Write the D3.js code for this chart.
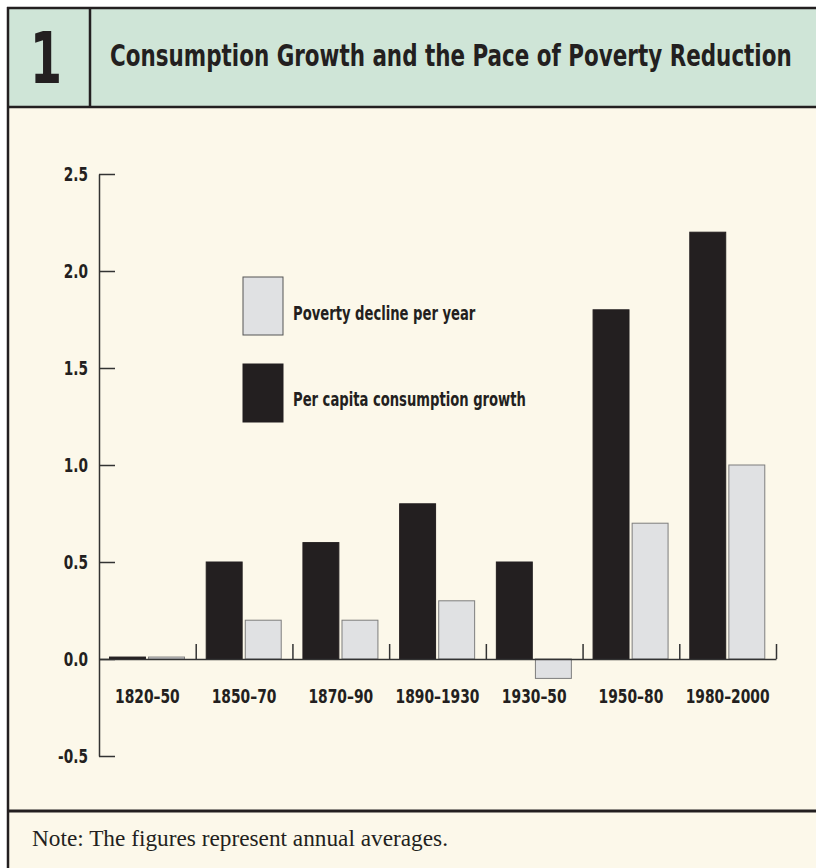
<!DOCTYPE html>
<html>
<head>
<meta charset="utf-8">
<script src="https://cdn.jsdelivr.net/npm/d3@7"></script>
<style>
  body { margin: 0; background: #fff; }
  .narrow { font-family: "Liberation Sans Narrow", "DejaVu Sans Condensed", "Arial Narrow", sans-serif; font-weight: bold; fill: #231f20; }
</style>
</head>
<body>
<div id="chart"></div>
<script>
const periods = ["1820–50", "1850–70", "1870–90", "1890–1930", "1930–50", "1950–80", "1980–2000"];
const seriesNames = ["Per capita consumption growth", "Poverty decline per year"];
const consumptionGrowth = [0.01, 0.5, 0.6, 0.8, 0.5, 1.8, 2.2];
const povertyDecline = [0.01, 0.2, 0.2, 0.3, -0.1, 0.7, 1.0];
const yTicks = [-0.5, 0.0, 0.5, 1.0, 1.5, 2.0, 2.5];

const W = 816, H = 868;
const ink = "#231f20";
const colors = { "Per capita consumption growth": "#231f20", "Poverty decline per year": "#e0e1e3" };

// squeeze a text horizontally around its anchor point (the condensed face is not installed)
function condense(sel, sx) {
  sel.each(function () {
    const t = d3.select(this);
    const x = +t.attr("x") || 0, y = +t.attr("y") || 0;
    t.attr("x", 0).attr("y", 0)
      .attr("transform", `translate(${x},${y}) scale(${sx},1)`);
  });
}

const svg = d3.select("#chart").append("svg")
  .attr("width", W).attr("height", H);

// panel background
svg.append("rect").attr("x", 8).attr("y", 8).attr("width", W).attr("height", H)
  .attr("fill", "#fcf8ea");
svg.append("rect").attr("x", 8).attr("y", 8).attr("width", W).attr("height", 99)
  .attr("fill", "#cfe5d7");

// frame lines
svg.append("line").attr("x1", 8).attr("x2", 8).attr("y1", 7).attr("y2", H)
  .attr("stroke", ink).attr("stroke-width", 2.5);
svg.append("line").attr("x1", 7).attr("x2", W).attr("y1", 8).attr("y2", 8)
  .attr("stroke", ink).attr("stroke-width", 2.5);
svg.append("line").attr("x1", 8).attr("x2", W).attr("y1", 107).attr("y2", 107)
  .attr("stroke", ink).attr("stroke-width", 2.5);
svg.append("line").attr("x1", 90).attr("x2", 90).attr("y1", 8).attr("y2", 107)
  .attr("stroke", ink).attr("stroke-width", 2.5);
svg.append("line").attr("x1", 8).attr("x2", W).attr("y1", 811).attr("y2", 811)
  .attr("stroke", ink).attr("stroke-width", 3);

// header
const num = svg.append("text").attr("class", "narrow")
  .attr("x", 46).attr("y", 83).attr("text-anchor", "middle")
  .style("font-size", "71px").text("1");
condense(num, 0.72);

const title = svg.append("text").attr("class", "narrow")
  .attr("x", 110).attr("y", 66)
  .style("font-size", "30px")
  .text("Consumption Growth and the Pace of Poverty Reduction");
condense(title, 682 / title.node().getComputedTextLength());

// scales
const x0 = d3.scaleBand().domain(periods).range([99, 776]).padding(0);
const x1 = d3.scaleBand().domain(seriesNames).range([10.5, 85.5]).paddingInner(0.08);
const y = d3.scaleLinear().domain([-0.5, 2.5]).range([756, 174]);

// y axis
const yAxis = svg.append("g")
  .attr("transform", "translate(99,0)")
  .call(d3.axisLeft(y).tickValues(yTicks)
    .tickFormat(d => d3.format(".1f")(d).replace("−", "-"))
    .tickSize(-16).tickSizeOuter(0).tickPadding(11));
yAxis.select(".domain").attr("stroke", "#333").attr("stroke-width", 1.5);
yAxis.selectAll(".tick line").attr("stroke", "#333").attr("stroke-width", 1.5);
yAxis.selectAll(".tick text").attr("class", "narrow").attr("dy", "0.36em")
  .style("font-size", "19px")
  .call(condense, 0.8);

// bars
const rows = periods.map((p, i) => ({ period: p, values: [
  { key: seriesNames[0], value: consumptionGrowth[i] },
  { key: seriesNames[1], value: povertyDecline[i] }
] }));

svg.append("g").selectAll("g")
  .data(rows).join("g")
  .attr("transform", d => `translate(${x0(d.period)},0)`)
  .selectAll("rect")
  .data(d => d.values).join("rect")
  .attr("x", d => x1(d.key))
  .attr("width", x1.bandwidth())
  .attr("y", d => y(Math.max(0, d.value)))
  .attr("height", d => Math.abs(y(d.value) - y(0)))
  .attr("fill", d => colors[d.key])
  .attr("stroke", d => d.key === seriesNames[0] ? ink : "#7d7d7d")
  .attr("stroke-width", 1);

// x axis: baseline with separators between periods
const xSep = d3.scaleLinear().domain([0, periods.length]).range([99, 776]);
const xAxis = svg.append("g")
  .attr("transform", `translate(0,${y(0)})`)
  .call(d3.axisTop(xSep).tickValues(d3.range(1, periods.length + 1))
    .tickSize(15).tickSizeOuter(0).tickFormat(""));
xAxis.select(".domain").attr("stroke", "#333").attr("stroke-width", 1.5);
xAxis.selectAll(".tick line").attr("stroke", "#333").attr("stroke-width", 1.5);

const xLabels = svg.append("g")
  .attr("transform", `translate(0,${y(0)})`)
  .call(d3.axisBottom(x0).tickSize(0).tickPadding(30));
xLabels.select(".domain").remove();
xLabels.selectAll(".tick text").attr("class", "narrow").style("font-size", "20px")
  .call(condense, 0.77);

// legend
const legend = svg.append("g").attr("transform", "translate(243,277)");
const legendItems = [seriesNames[1], seriesNames[0]];
legend.selectAll("rect").data(legendItems).join("rect")
  .attr("x", 0).attr("y", (d, i) => i * 87)
  .attr("width", 40).attr("height", 58)
  .attr("fill", d => colors[d])
  .attr("stroke", d => d === seriesNames[0] ? ink : "#555")
  .attr("stroke-width", 1);
legend.selectAll("text").data(legendItems).join("text")
  .attr("class", "narrow")
  .attr("x", 50).attr("y", (d, i) => 43 + i * 86)
  .style("font-size", "19px")
  .text(d => d)
  .call(condense, 0.77);

// note
svg.append("text")
  .attr("x", 32).attr("y", 846)
  .attr("textLength", 416).attr("lengthAdjust", "spacingAndGlyphs")
  .style("font-family", "'Liberation Serif', 'DejaVu Serif', serif")
  .style("font-size", "23px").attr("fill", ink)
  .text("Note: The figures represent annual averages.");
</script>
</body>
</html>
